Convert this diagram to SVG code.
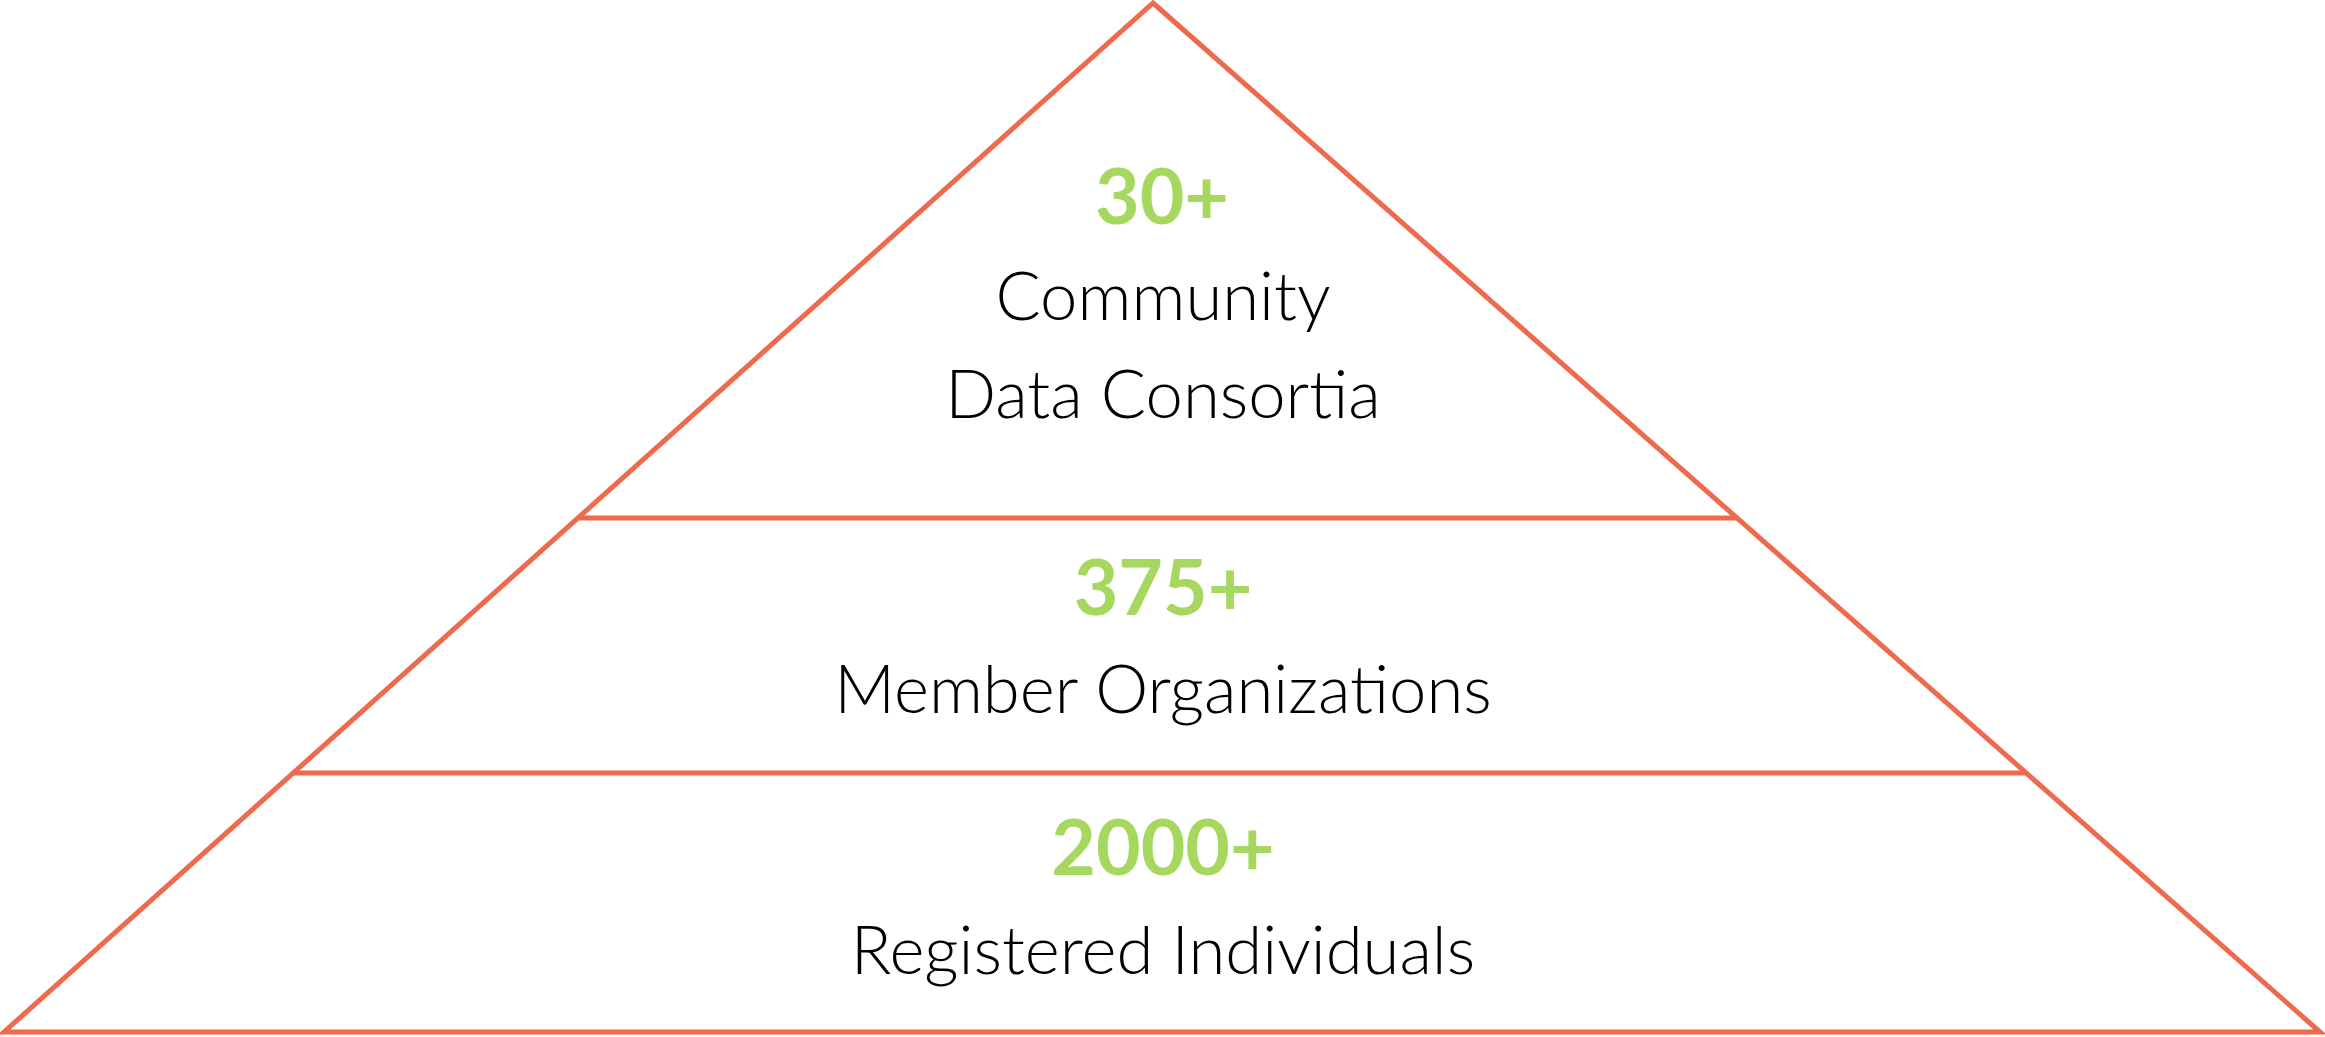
<svg xmlns="http://www.w3.org/2000/svg" width="2325" height="1037" viewBox="0 0 2325 1037">
<style>
.edge{stroke:#ee6a4e;stroke-width:5;fill:none;stroke-linejoin:miter}
.num{font-family:Lato,"Noto Sans",sans-serif;font-weight:700;font-size:77px;fill:#a6d75e;text-anchor:middle}
.lbl{font-family:Lato,"Noto Sans",sans-serif;font-weight:300;font-size:67px;fill:#000;text-anchor:middle}
</style>
<rect width="2325" height="1037" fill="#fff"/>
<g id="connectors">
<polygon class="edge" points="1153,3 2320,1032 4,1032"/>
<line class="edge" x1="577" y1="518" x2="1737" y2="518"/>
<line class="edge" x1="293" y1="773" x2="2026" y2="773"/>
</g>
<g id="tier-top">
<text class="num" x="1162" y="224">30+</text>
<text class="lbl" x="1163" y="320">Community</text>
<text class="lbl" x="1163" y="418">Data Consortia</text>
</g>
<g id="tier-middle">
<text class="num" x="1163" y="615">375+</text>
<text class="lbl" x="1163" y="713">Member Organizations</text>
</g>
<g id="tier-bottom">
<text class="num" x="1163" y="875">2000+</text>
<text class="lbl" x="1163" y="974">Registered Individuals</text>
</g>
</svg>
